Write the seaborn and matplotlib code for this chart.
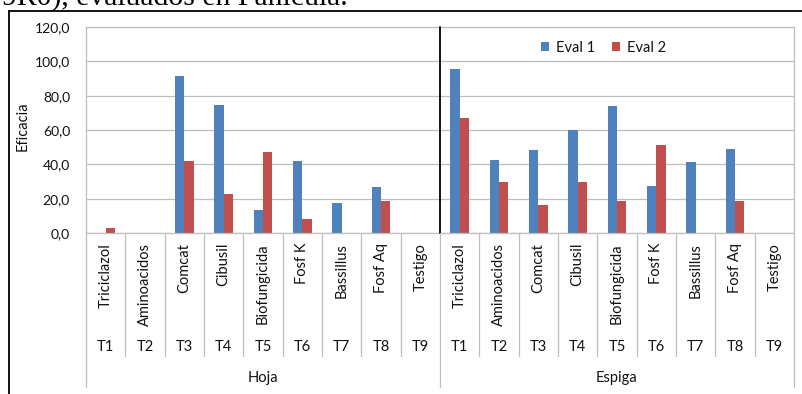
import matplotlib
matplotlib.use("Agg")
import matplotlib.pyplot as plt
import matplotlib.transforms as mtransforms
from matplotlib.lines import Line2D
from matplotlib.ticker import FuncFormatter, MultipleLocator
import numpy as np
import pandas as pd
import seaborn as sns

# Data: efficacy per treatment, for leaf (Hoja) and panicle (Espiga)
groups = ["Hoja", "Espiga"]
treatments = ["T1", "T2", "T3", "T4", "T5", "T6", "T7", "T8", "T9"]
products = ["Triciclazol", "Aminoacidos", "Comcat", "Cibusil", "Biofungicida",
            "Fosf K", "Bassillus", "Fosf Aq", "Testigo"]
series = ["Eval 1", "Eval 2"]

hoja_eval1 = [0.0, 0.0, 91.5, 74.8, 13.2, 41.9, 17.3, 26.8, 0.0]
hoja_eval2 = [3.2, 0.0, 41.9, 22.7, 47.0, 8.0, 0.0, 18.4, 0.0]
espiga_eval1 = [95.7, 42.7, 48.3, 60.2, 73.8, 27.2, 41.2, 48.7, 0.0]
espiga_eval2 = [67.2, 29.9, 16.1, 29.9, 18.4, 51.5, 0.0, 18.8, 0.0]

# Long-format table for seaborn
rows = []
for g, e1, e2 in [("Hoja", hoja_eval1, hoja_eval2), ("Espiga", espiga_eval1, espiga_eval2)]:
    for t, v1, v2 in zip(treatments, e1, e2):
        key = f"{g}-{t}"
        rows.append({"cat": key, "serie": "Eval 1", "valor": v1})
        rows.append({"cat": key, "serie": "Eval 2", "valor": v2})
df = pd.DataFrame(rows)
order = [f"{g}-{t}" for g in groups for t in treatments]

W, H, DPI = 802, 394, 100
fig = plt.figure(figsize=(W / DPI, H / DPI), dpi=DPI)
sns.set_style("white")
plt.rcParams["font.family"] = ["Lato", "DejaVu Sans"]

def fx(px):
    return px / W

def fy(py):
    return 1 - py / H

ax_left, ax_right, ax_top, ax_bottom = 86, 794, 27, 233
ax = fig.add_axes([fx(ax_left), fy(ax_bottom), fx(ax_right - ax_left), fy(ax_top) - fy(ax_bottom)])

palette = {"Eval 1": "#4F81BD", "Eval 2": "#C0504D"}
sns.barplot(data=df, x="cat", y="valor", hue="serie", order=order, hue_order=series,
            palette=palette, width=0.48, linewidth=0, saturation=1, ax=ax, errorbar=None)

txt_c = "#111111"
grid_c = "#BEBEBE"
ax.set_ylim(0, 120)
ax.set_xlim(-0.5, len(order) - 0.5)
ax.yaxis.set_major_locator(MultipleLocator(20))
ax.yaxis.set_major_formatter(FuncFormatter(lambda v, p: f"{v:.1f}".replace(".", ",")))
ax.grid(axis="y", color=grid_c, linewidth=0.9)
ax.set_axisbelow(True)
ax.tick_params(axis="y", length=0, pad=11.5, labelsize=10, labelcolor=txt_c)
ax.tick_params(axis="x", length=0, labelbottom=False)
ax.set_xlabel("")
ax.set_ylabel("")
for s in ax.spines.values():
    s.set_color(grid_c)
    s.set_linewidth(0.9)

# Legend
handles, labels = ax.get_legend_handles_labels()
ax.legend(handles, labels, loc="center", bbox_to_anchor=(0.731, 0.898), ncol=2,
          frameon=False, fontsize=10.5, handlelength=0.55, handleheight=0.55,
          handletextpad=0.5, columnspacing=1.1, borderpad=0, labelcolor=txt_c)

# Divider between Hoja and Espiga inside the plot
ax.plot([8.5, 8.5], [0, 120], color="black", linewidth=1.3, clip_on=False, zorder=5)

# Multi-level category axis
trans = mtransforms.blended_transform_factory(ax.transData, fig.transFigure)
for k in range(1, len(order)):
    if k == 9:
        continue
    fig.add_artist(Line2D([k - 0.5, k - 0.5], [fy(233), fy(356)], transform=trans,
                          color=grid_c, linewidth=0.9))
for xb in (-0.5, 8.5, 17.5):
    fig.add_artist(Line2D([xb, xb], [fy(233), fy(387)], transform=trans,
                          color=grid_c, linewidth=0.9))

for gi, g in enumerate(groups):
    for ti, (t, p) in enumerate(zip(treatments, products)):
        xi = gi * 9 + ti
        fig.text(xi, fy(243), p, transform=trans, rotation=90, ha="center", va="top",
                 fontsize=10.5, color=txt_c)
        fig.text(xi, fy(347), t, transform=trans, ha="center", va="center",
                 fontsize=10.5, color=txt_c)
    fig.text(gi * 9 + 4, fy(378), g, transform=trans, ha="center", va="center",
             fontsize=10.5, color=txt_c)

# Y axis title
fig.text(fx(23), fy(126.5), "Eficacia", rotation=90, ha="center", va="center",
         fontsize=10.5, color=txt_c)

# Outer chart frame (top and left edges)
fig.add_artist(Line2D([fx(8.5), 1.0], [fy(10.5), fy(10.5)], color="black", linewidth=1.3))
fig.add_artist(Line2D([fx(8.5), fx(8.5)], [fy(10.5), 0.0], color="black", linewidth=1.3))

# Caption line above the chart
fig.text(fx(2), fy(5), "9R0), evaluados en Panícula.", ha="left", va="baseline",
         fontsize=21.4, family=["Liberation Serif", "DejaVu Serif"], color="black")

fig.savefig("out.png", dpi=DPI)
